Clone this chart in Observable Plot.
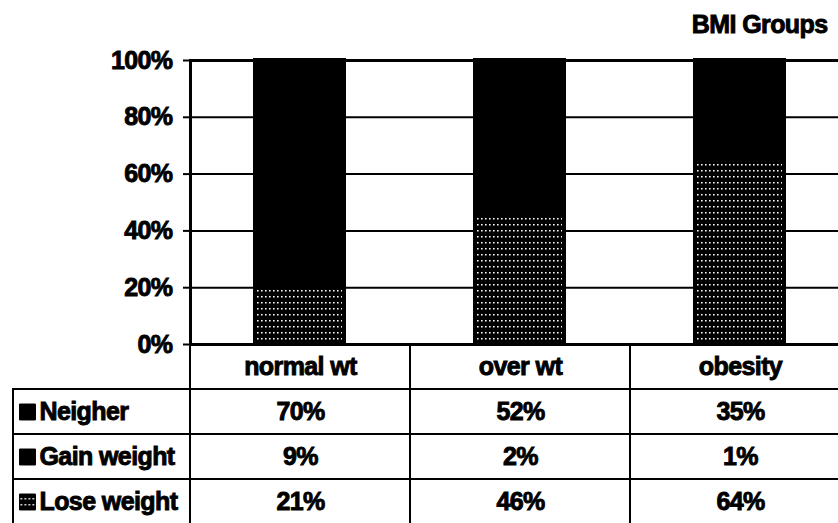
<!DOCTYPE html>
<html>
<head>
<meta charset="utf-8">
<script src="https://cdn.jsdelivr.net/npm/d3@7"></script>
<script src="https://cdn.jsdelivr.net/npm/@observablehq/plot@0.6"></script>
<style>
  html, body { margin: 0; padding: 0; background: #fff; }
  #wrap { position: relative; width: 838px; height: 523px; overflow: hidden; background: #fff; }
  #wrap svg { position: absolute; left: 0; overflow: visible; }
  #wrap svg text { stroke: #000; stroke-width: 0.9px; paint-order: stroke; letter-spacing: -0.6px; }
</style>
</head>
<body>
<div id="wrap"></div>
<script>
// BMI groups and the share of each weight-goal answer (percent)
const groups = ["normal wt", "over wt", "obesity"];
const seriesNames = ["Neigher", "Gain weight", "Lose weight"];
const neigher = [70, 52, 35];
const gainWeight = [9, 2, 1];
const loseWeight = [21, 46, 64];
const yTicks = [0, 20, 40, 60, 80, 100];
const title = "BMI Groups";

const seriesValues = {"Neigher": neigher, "Gain weight": gainWeight, "Lose weight": loseWeight};
const records = seriesNames.flatMap(s =>
  groups.map((g, i) => ({series: s, group: g, value: seriesValues[s][i]}))
);

// stacking from the bottom up
const stackOrder = ["Lose weight", "Gain weight", "Neigher"];
const fills = ["#000", "#000", "url(#lose-pattern)"];
const FONT = '"Liberation Sans", Arial, Helvetica, sans-serif';
const xRange = [190, 850];
const baseStyle = {fontFamily: FONT, fontWeight: "bold", fontSize: "25px", background: "transparent", color: "#000"};

const chart = Plot.plot({
  width: 838, height: 348,
  marginLeft: 190, marginRight: -12, marginTop: 60, marginBottom: 4,
  style: baseStyle,
  x: {type: "band", domain: groups, range: xRange, paddingInner: 0.577, paddingOuter: 0.2885, axis: null},
  y: {domain: [0, 100], axis: null},
  color: {domain: seriesNames, range: fills},
  marks: [
    Plot.ruleY(yTicks.slice(1, -1), {stroke: "#000", strokeWidth: 2}),
    Plot.barY(records, {
      x: "group", y: "value", fill: "series", order: stackOrder,
      stroke: "#000", strokeWidth: 4, insetLeft: 2, insetRight: 2, insetTop: 0, insetBottom: 0,
      shapeRendering: "crispEdges"
    }),
    Plot.ruleY([0, 100], {stroke: "#000", strokeWidth: 3}),
    Plot.frame({anchor: "left", stroke: "#000", strokeWidth: 3}),
    Plot.axisY({ticks: yTicks, tickSize: 7, tickPadding: 11, tickFormat: d => d + "%", strokeWidth: 2, fontSize: 25, label: null}),
    Plot.text([title], {frameAnchor: "top-right", dx: -23, dy: -28, lineAnchor: "bottom", fontSize: 25, fontWeight: "bold", text: d => d})
  ]
});

// dotted fill used by the "Lose weight" series
const defs = d3.select(chart).insert("defs", ":first-child");
const pat = defs.append("pattern")
  .attr("id", "lose-pattern")
  .attr("patternUnits", "userSpaceOnUse")
  .attr("width", 4).attr("height", 6);
pat.append("rect").attr("width", 4).attr("height", 6).attr("fill", "#000");
pat.append("rect").attr("x", 1).attr("y", 2).attr("width", 1.6).attr("height", 1.5).attr("fill", "#fff");

// data table under the bars
const rowKeys = ["header", ...seriesNames];
const table = Plot.plot({
  width: 838, height: 180,
  marginLeft: 13, marginRight: -4, marginTop: 0, marginBottom: 0,
  style: baseStyle,
  x: {type: "band", domain: groups, range: xRange, padding: 0, axis: null},
  y: {type: "band", domain: rowKeys, range: [0, 180], padding: 0, axis: null},
  color: {domain: seriesNames, range: fills},
  marks: [
    Plot.cell(seriesNames, {y: d => d, fill: "none", stroke: "#000", strokeWidth: 2, inset: 0}),
    Plot.cell(d3.cross(groups, rowKeys), {x: d => d[0], y: d => d[1], fill: "none", stroke: "#000", strokeWidth: 2, inset: 0}),
    Plot.text(groups, {x: d => d, y: () => "header", text: d => d, fontSize: 25}),
    Plot.text(records, {x: "group", y: "series", text: d => d.value + "%", fontSize: 25}),
    Plot.dot(seriesNames, {y: d => d, frameAnchor: "left", dx: 14, symbol: "square", r: 9, fill: d => d, stroke: "#000", strokeWidth: 1}),
    Plot.text(seriesNames, {y: d => d, frameAnchor: "left", dx: 26, textAnchor: "start", text: d => d, fontSize: 25, ariaLabel: "series labels"})
  ]
});
d3.select(table).selectAll('g[aria-label="series labels"] text').style("letter-spacing", "-1.3px").style("word-spacing", "-3px");
d3.select(table).style("top", "344px");
d3.select(chart).style("top", "0px");

const wrap = document.getElementById("wrap");
wrap.appendChild(chart);
wrap.appendChild(table);
</script>
</body>
</html>
